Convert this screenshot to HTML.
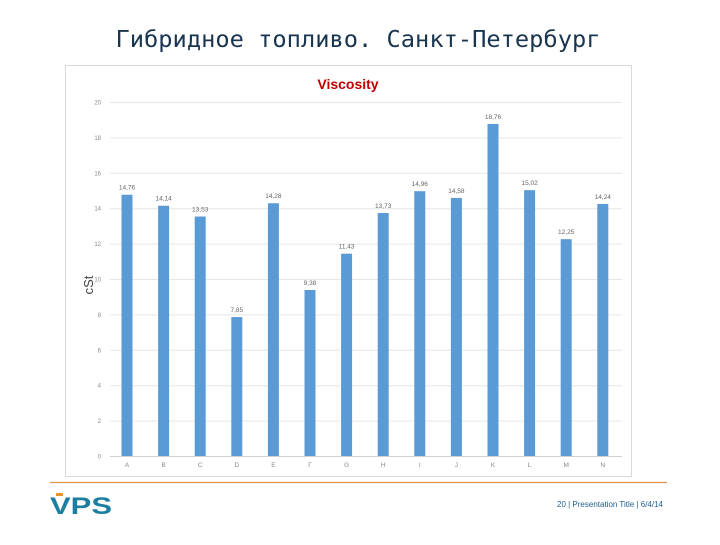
<!DOCTYPE html>
<html><head><meta charset="utf-8"><style>
body{margin:0;width:720px;height:540px;background:#fff;overflow:hidden;font-family:"Liberation Sans","DejaVu Sans",sans-serif}
</style></head><body>
<svg width="720" height="540" xmlns="http://www.w3.org/2000/svg">
<text x="358" y="47" text-anchor="middle" font-family="DejaVu Sans Mono, Liberation Mono, monospace" font-size="23" fill="#1a3550" textLength="485" lengthAdjust="spacingAndGlyphs">Гибридное топливо. Санкт-Петербург</text>
<rect x="65.5" y="65.5" width="566" height="411" fill="#fff" stroke="#d9d9d9"/>
<text x="348" y="89" text-anchor="middle" font-size="14" font-weight="bold" fill="#c00000">Viscosity</text>
<text x="0" y="0" transform="translate(93,285) rotate(-90)" text-anchor="middle" font-size="13" fill="#444">cSt</text>
<g id="grid"></g><g id="bars"></g>
<line x1="50" y1="482.5" x2="667" y2="482.5" stroke="#d9954a" stroke-width="1.2"/>
<g>
<rect x="56" y="493" width="7" height="3" fill="#e8952e"/>
<text x="50" y="514" font-size="24" font-weight="bold" fill="#1d7fa0" font-family="Liberation Sans, sans-serif" textLength="62" lengthAdjust="spacingAndGlyphs">VPS</text>
</g>
<text x="663" y="507" text-anchor="end" font-size="8" fill="#1d5f8a">20 | Presentation Title | 6/4/14</text>
</svg>
<script>
const categories=["A","B","C","D","E","Г","G","H","I","J","K","L","M","N"];
const values=[14.76,14.14,13.53,7.85,14.28,9.38,11.43,13.73,14.96,14.58,18.76,15.02,12.25,14.24];
const yTicks=[0,2,4,6,8,10,12,14,16,18,20];
const NS="http://www.w3.org/2000/svg";
const y=v=>456-v*17.7;
const x=i=>127+i*36.6;
function mk(t,a,p){const e=document.createElementNS(NS,t);for(const k in a)e.setAttribute(k,a[k]);p.appendChild(e);return e;}
const g=document.getElementById('grid'),b=document.getElementById('bars');
yTicks.forEach(t=>{
 const l=mk('line',{x1:110,x2:622,y1:y(t)+.5,y2:y(t)+.5,stroke:t===0?'#d0d0d0':'#e6e6e6'},g);
 
 
 const tx=mk('text',{x:101,y:y(t)+2.5,'text-anchor':'end','font-size':6,fill:'#888'},g);tx.textContent=t;
 
 
});
values.forEach((v,i)=>{
 const r=mk('rect',{x:x(i)-5.5,y:y(v),width:11,height:456-y(v),fill:'#5b9bd5'},b);
 
 
 const lb=mk('text',{x:x(i),y:y(v)-5,'text-anchor':'middle','font-size':6.5,fill:'#666'},b);lb.textContent=v.toFixed(2).replace('.',',');
 
 
 const c=mk('text',{x:x(i),y:467,'text-anchor':'middle','font-size':6.5,fill:'#888'},b);c.textContent=categories[i];
 
 
});
</script>
</body></html>
